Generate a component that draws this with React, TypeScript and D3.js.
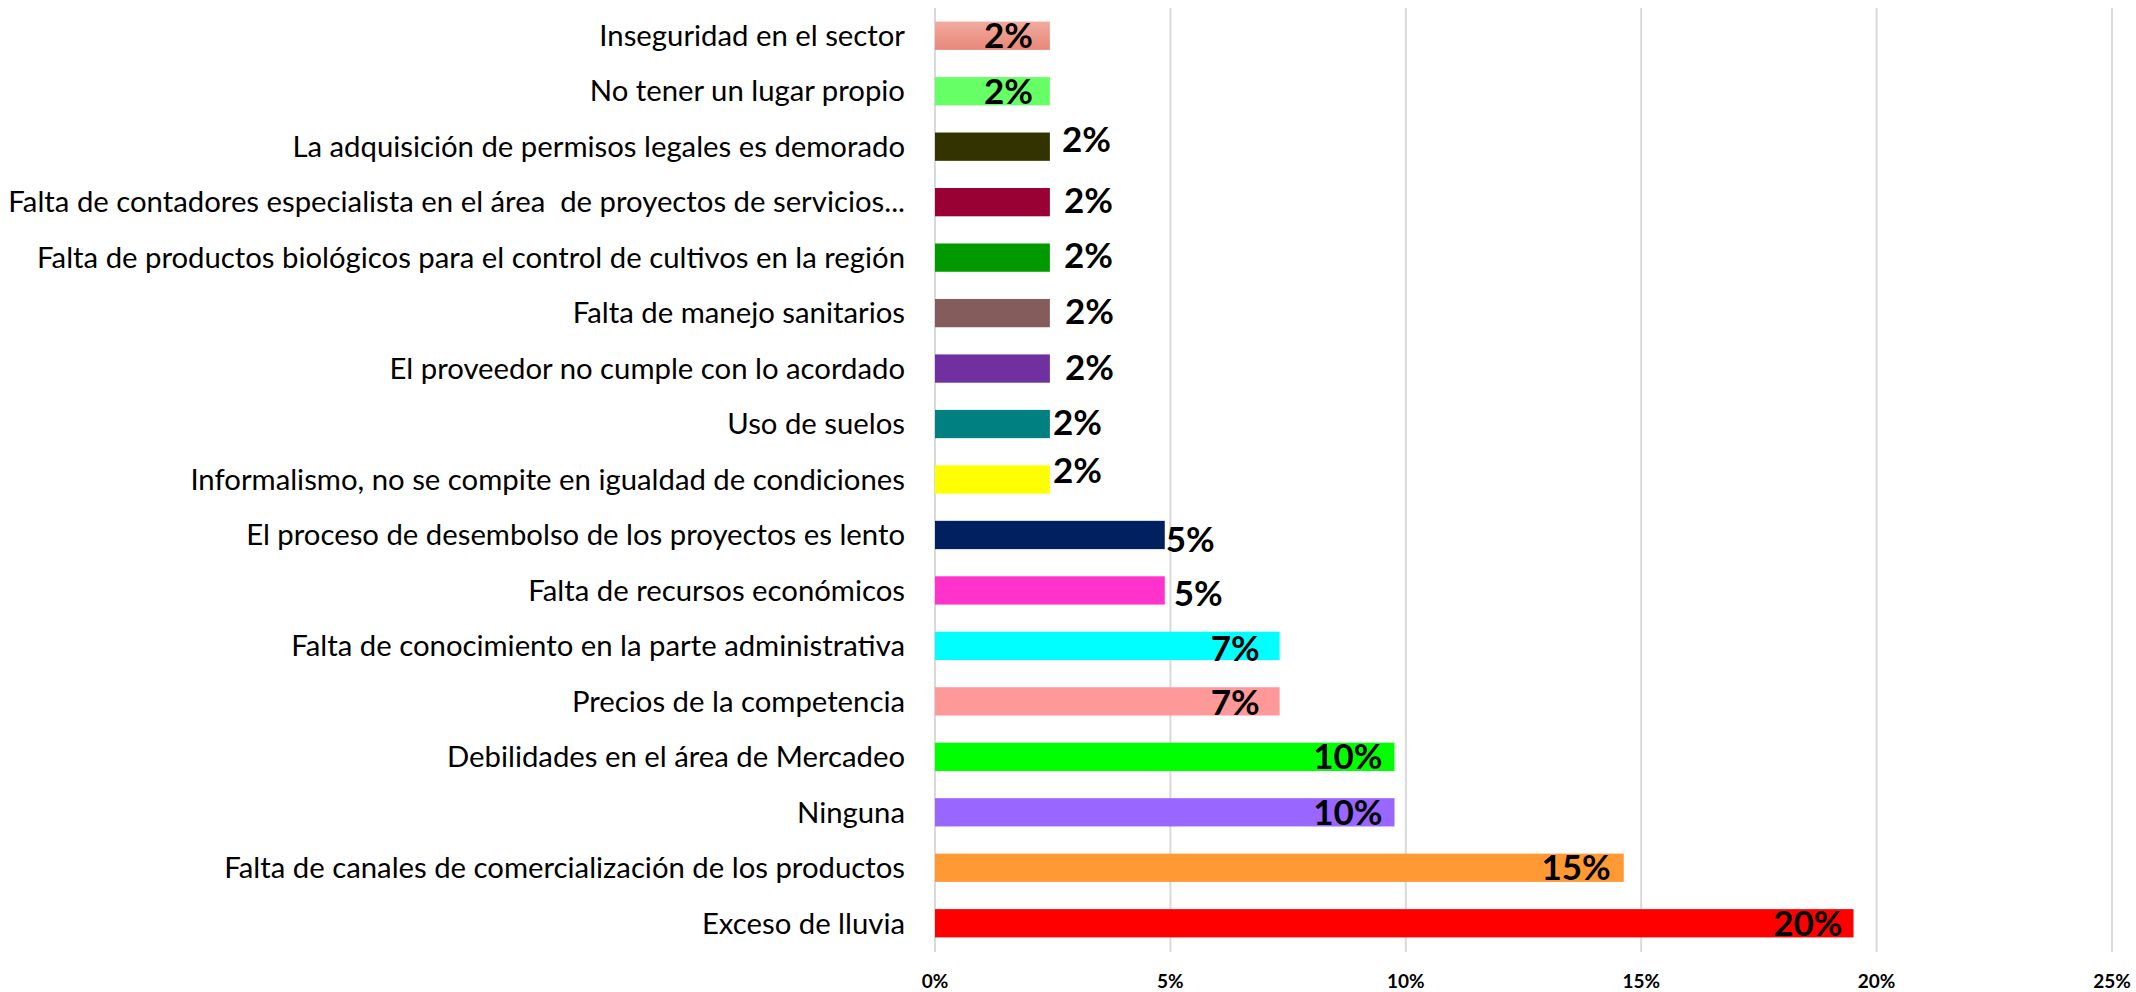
import React from 'react'
import * as d3 from 'd3'

// categories top to bottom, as in the picture
const categories = [
  'Inseguridad en el sector',
  'No tener un lugar propio',
  'La adquisición de permisos legales es demorado',
  'Falta de contadores especialista en el área  de proyectos de servicios...',
  'Falta de productos biológicos para el control de cultivos en la región',
  'Falta de manejo sanitarios',
  'El proveedor no cumple con lo acordado',
  'Uso de suelos',
  'Informalismo, no se compite en igualdad de condiciones',
  'El proceso de desembolso de los proyectos es lento',
  'Falta de recursos económicos',
  'Falta de conocimiento en la parte administrativa',
  'Precios de la competencia',
  'Debilidades en el área de Mercadeo',
  'Ninguna',
  'Falta de canales de comercialización de los productos',
  'Exceso de lluvia',
]
// percent of answers
const values = [2.44, 2.44, 2.44, 2.44, 2.44, 2.44, 2.44, 2.44, 2.44, 4.88, 4.88, 7.32, 7.32, 9.76, 9.76, 14.63, 19.51]
const barColors = [
  'url(#salmonGrad)', '#66ff66', '#333300', '#990033', '#009900', '#855c5c', '#7030a0', '#008080',
  '#ffff00', '#002060', '#ff33cc', '#00ffff', '#ff9999', '#00ff00', '#9966ff', '#ff9933', '#ff0000',
]
const tickValues = [0, 5, 10, 15, 20, 25]

// where each value label sits, relative to bar end / bar middle (px)
const labelNudge = [
  [-17, 0], [-17, 0], [61, -7], [63, -2], [63, -2], [64, -2], [64, -1], [52, -2], [52, -9],
  [50, 4], [58, 3], [-20, 2], [-20, 1], [-12, 0], [-12, 0], [-13, 0], [-11, 0],
]

const W = 2136
const H = 992

export default function App() {
  const x = d3.scaleLinear().domain([0, 25]).range([935, 2112])
  const y = d3.scaleBand().domain(categories).range([8, 951]).paddingInner(0.49).paddingOuter(0.245)
  const font = 'Lato, "Open Sans", sans-serif'

  return (
    <svg width={W} height={H} style={{ position: 'absolute', left: 0, top: 0, background: '#fff' }}>
      <defs>
        <linearGradient id="salmonGrad" x1="0" y1="0" x2="0" y2="1">
          <stop offset="0%" stopColor="#f2aa9e" />
          <stop offset="100%" stopColor="#e8877a" />
        </linearGradient>
      </defs>
      {/* grid */}
      {tickValues.map((t) => (
        <line key={'g' + t} x1={x(t)} x2={x(t)} y1={8} y2={952} stroke="#d9d9d9" strokeWidth={2} />
      ))}
      {/* bars */}
      {categories.map((c, i) => (
        <rect key={c} x={x(0)} y={y(c)} width={x(values[i]) - x(0)} height={y.bandwidth()} fill={barColors[i]} />
      ))}
      {/* category labels */}
      {categories.map((c) => (
        <text key={'l' + c} x={905} y={(y(c) || 0) + y.bandwidth() / 2} dy="0.35em" textAnchor="end"
          fontFamily={font} fontSize={29.3} fill="#000" style={{ whiteSpace: 'pre' }}>
          {c}
        </text>
      ))}
      {/* value labels */}
      {categories.map((c, i) => (
        <text key={'v' + c} x={x(values[i]) + labelNudge[i][0]} y={(y(c) || 0) + y.bandwidth() / 2 + labelNudge[i][1]}
          dy="0.36em" textAnchor="end" fontFamily={font} fontWeight={700} fontSize={35} fill="#000">
          {Math.round(values[i]) + '%'}
        </text>
      ))}
      {/* x ticks */}
      {tickValues.map((t) => (
        <text key={'t' + t} x={x(t)} y={981} dy="0.35em" textAnchor="middle" fontFamily={font}
          fontWeight={700} fontSize={19} fill="#000">
          {t + '%'}
        </text>
      ))}
    </svg>
  )
}
